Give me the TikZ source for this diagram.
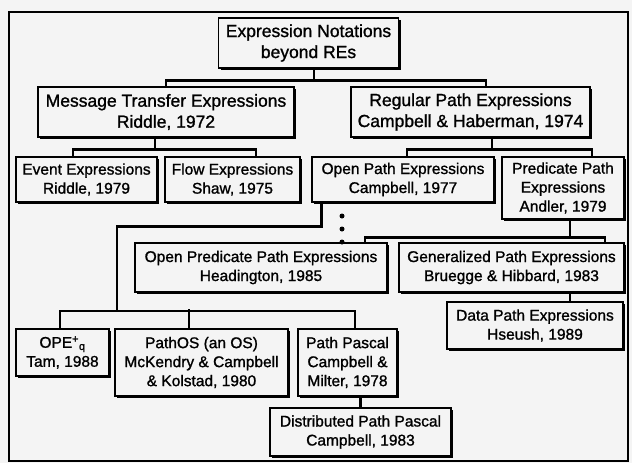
\documentclass[tikz,border=0pt]{standalone}
\usepackage{fontspec}
\setmainfont{Liberation Sans}[RawFeature={embolden=1.2}]
\usetikzlibrary{calc,shadows}
\definecolor{paper}{RGB}{244,244,244}
\tikzset{
  box/.style={draw=black, line width=1.5pt, fill=paper, inner sep=0pt,
    align=center, rectangle,
    drop shadow={shadow xshift=2pt, shadow yshift=-2pt, opacity=1, fill=black}},
  big/.style={font=\fontsize{17.5}{21}\selectfont},
  small/.style={font=\fontsize{15.5}{19}\selectfont},
  conn/.style={line width=2.7pt, line cap=rect},
  dotmark/.style={circle, fill=black, inner sep=0pt, minimum size=5pt}
}
\begin{document}
\begin{tikzpicture}[x=1pt, y=-1pt]
  % page and outer frame
  \fill[paper] (0,0) rectangle (632,463);
  \useasboundingbox (0,0) rectangle (632,463);
  \draw[line width=1.8pt] (9,12) rectangle (628,461);

  % top two levels
  \node[box, big, minimum width=180pt, minimum height=50pt] (root) at (308.5,43)
    {Expression Notations\\beyond REs};
  \node[box, big, minimum width=256pt, minimum height=50pt] (mte) at (166,112)
    {Message Transfer Expressions\\Riddle, 1972};
  \node[box, big, minimum width=239pt, minimum height=50pt] (rpe) at (470.5,112)
    {Regular Path Expressions\\Campbell \& Haberman, 1974};

  % third level
  \node[box, small, minimum width=141pt, minimum height=45pt] (event) at (86.5,179.5)
    {Event Expressions\\Riddle, 1979};
  \node[box, small, minimum width=135pt, minimum height=45pt] (flow) at (232.5,179.5)
    {Flow Expressions\\Shaw, 1975};
  \node[box, small, minimum width=182pt, minimum height=45pt] (open) at (403,179.5)
    {Open Path Expressions\\Campbell, 1977};
  \node[box, small, minimum width=122pt, minimum height=62pt] (pred) at (563,188)
    {Predicate Path\\Expressions\\Andler, 1979};

  % descendants of predicate path expressions
  \node[box, small, minimum width=252pt, minimum height=49pt] (opred) at (261,267.5)
    {Open Predicate Path Expressions\\Headington, 1985};
  \node[box, small, minimum width=225pt, minimum height=49pt] (gen) at (511.5,267.5)
    {Generalized Path Expressions\\Bruegge \& Hibbard, 1983};
  \node[box, small, minimum width=176pt, minimum height=47pt] (data) at (535,325.5)
    {Data Path Expressions\\Hseush, 1989};

  % descendants of open path expressions
  \node[box, small, minimum width=93pt, minimum height=47pt] (ope) at (62.5,352.5)
    {OPE\textsuperscript{+}\textsubscript{q}\\Tam, 1988};
  \node[box, small, minimum width=173pt, minimum height=67pt] (pathos) at (201.5,362.5)
    {PathOS (an OS)\\McKendry \& Campbell\\\& Kolstad, 1980};
  \node[box, small, minimum width=99pt, minimum height=67pt] (pascal) at (347.5,362.5)
    {Path Pascal\\Campbell \&\\Milter, 1978};
  \node[box, small, minimum width=181pt, minimum height=48pt] (dist) at (360.5,432)
    {Distributed Path Pascal\\Campbell, 1983};

  % junction points of the tree
  \coordinate (jroot) at ($(root.south)+(5.5,12)$);
  \coordinate (jmte)  at ($(mte.south)+(-11,12)$);
  \coordinate (jrpe)  at ($(rpe.south)+(21.5,12)$);
  \coordinate (jpred) at ($(pred.south)+(7,18)$);
  \coordinate (jopen) at ($(open.south west)+(10,24)$);
  \coordinate (jrow)  at (117,311);

  % root to level two
  \draw[conn] (root.south -| jroot) -- (jroot);
  \draw[conn] (mte.north) |- (jroot) -| ($(rpe.north)+(15.5,0)$);

  % message transfer expressions to its children
  \draw[conn] (mte.south -| jmte) -- (jmte);
  \draw[conn] ($(event.north)+(-13.5,0)$) |- (jmte) -| ($(flow.north)+(23.5,0)$);

  % regular path expressions to its children
  \draw[conn] (rpe.south -| jrpe) -- (jrpe);
  \draw[conn] ($(open.north)+(4,0)$) |- (jrpe) -| ($(pred.north)+(29,0)$);

  % predicate path expressions to its children
  \draw[conn] (pred.south -| jpred) -- (jpred);
  \draw[conn] ($(opred.north)+(104,0)$) |- (jpred) -| ($(gen.north)+(93.5,0)$);
  \draw[conn] (gen.south -| jpred) -- (data.north -| jpred);

  % open path expressions down to its descendants
  \draw[conn] (open.south -| jopen) -- (jopen) -| (jrow);
  \draw[conn] ($(ope.north)+(-2.5,0)$) |- (jrow) -| ($(pascal.north)+(7.5,0)$);
  \draw[conn] ($(pathos.north)+(-12.5,0)$) -- ($(pathos.north)+(-12.5,-18)$);
  \draw[conn] (pascal.south -| dist.north) -- (dist.north);

  % ellipsis below open path expressions
  \node[dotmark] (d1) at (342,216) {};
  \node[dotmark] (d2) at (342,229) {};
  \node[dotmark] (d3) at (342,242) {};
\end{tikzpicture}
\end{document}
